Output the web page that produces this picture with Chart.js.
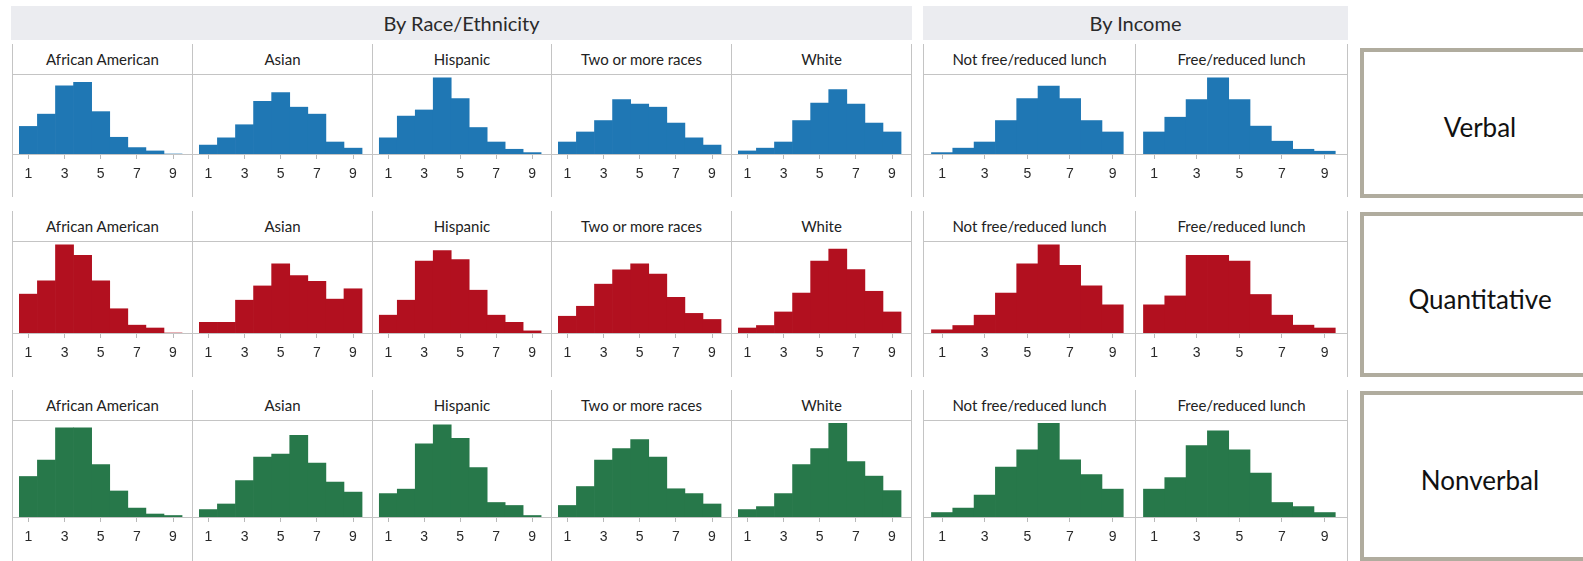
<!DOCTYPE html>
<html>
<head>
<meta charset="utf-8">
<title>Score distributions by group</title>
<script src="https://cdn.jsdelivr.net/npm/chart.js@4.4.1/dist/chart.umd.min.js"></script>
<style>
  html, body { margin: 0; padding: 0; background: #fff; }
  #stage { position: relative; width: 1583px; height: 561px; overflow: hidden;
           font-family: Lato, "Open Sans", sans-serif; color: #333; }
  .band { position: absolute; background: #ebecf0; display: flex; align-items: center;
          justify-content: center; font-size: 20px; color: #2a2a2a; }
  .vline { position: absolute; width: 1px; background: #c4c4c4; }
  .hline { position: absolute; height: 1px; background: #c4c4c4; }
  .ptitle { position: absolute; display: flex; align-items: center; justify-content: center;
            font-size: 15px; color: #222; white-space: nowrap; }
  .mbox { position: absolute; box-sizing: border-box; border: 4px solid #b0ac9e;
          display: flex; align-items: center; justify-content: center;
          font-size: 26px; color: #111; }
  canvas { position: absolute; }
</style>
</head>
<body>
<div id="stage"></div>
<script>
// ---- data -------------------------------------------------------------
const scoreBins   = [1, 2, 3, 4, 5, 6, 7, 8, 9];     // stanine
const tickLabels  = [1, 3, 5, 7, 9];
const sectionTitles = ["By Race/Ethnicity", "By Income"];
const raceGroups    = ["African American", "Asian", "Hispanic", "Two or more races", "White"];
const incomeGroups  = ["Not free/reduced lunch", "Free/reduced lunch"];
const measures      = ["Verbal", "Quantitative", "Nonverbal"];

// percent of students in each stanine, panels in order:
// African American, Asian, Hispanic, Two or more races, White, Not FRL, FRL
const verbalPct = [
  [9.9, 14.3, 24.5, 25.7, 15.2, 6.0, 2.3, 1.1, 0.0],
  [3.2, 5.8, 10.5, 18.9, 22.0, 16.8, 14.3, 4.3, 2.1],
  [5.8, 13.6, 15.8, 27.3, 19.9, 9.5, 4.3, 1.7, 0.5],
  [4.3, 7.9, 12.0, 19.5, 17.9, 16.8, 11.1, 5.8, 3.2],
  [1.1, 2.1, 4.3, 12.0, 18.3, 23.1, 17.9, 11.1, 7.9],
  [0.5, 2.1, 4.3, 12.0, 19.9, 24.4, 19.9, 12.0, 7.9],
  [7.9, 13.2, 19.5, 27.3, 19.5, 10.0, 4.6, 1.7, 1.0]
];
const quantitativePct = [
  [10.9, 14.6, 24.7, 21.8, 14.6, 6.8, 2.2, 1.4, 0.0],
  [3.0, 3.0, 9.2, 13.2, 19.4, 16.1, 14.5, 9.5, 12.4],
  [5.0, 9.2, 20.2, 23.1, 20.6, 12.0, 5.0, 3.0, 0.6],
  [4.7, 7.5, 13.7, 17.7, 19.4, 16.5, 10.0, 5.5, 3.8],
  [1.4, 2.1, 5.9, 11.2, 20.2, 23.5, 17.8, 11.7, 5.9],
  [0.9, 2.1, 5.0, 11.2, 19.4, 24.7, 19.0, 13.2, 7.9],
  [7.9, 10.4, 21.8, 21.8, 20.2, 10.8, 5.0, 2.2, 1.4]
];
const nonverbalPct = [
  [10.9, 15.3, 24.0, 24.0, 14.1, 7.0, 2.4, 0.8, 0.4],
  [2.0, 3.5, 9.8, 16.1, 16.9, 22.0, 14.5, 9.4, 6.7],
  [6.3, 7.5, 19.7, 24.8, 21.2, 13.3, 3.9, 3.1, 0.4],
  [3.1, 8.2, 15.3, 18.4, 20.8, 16.1, 7.6, 6.3, 3.5],
  [2.0, 2.8, 6.3, 14.1, 18.4, 25.2, 14.9, 11.0, 7.1],
  [1.2, 2.4, 5.9, 13.4, 18.1, 25.2, 15.4, 11.4, 7.5],
  [7.5, 10.6, 19.2, 23.2, 18.1, 11.8, 3.9, 2.8, 1.2]
];
const axisMaxPct = [28.7, 25.8, 26.1];   // shared value axis per measure row

// ---- styling & layout ---------------------------------------------------
const measureColors = ["#1f77b4", "#b2101f", "#27784a"];
const X_MIN = 0.15, X_MAX = 10.05;

// panel divider x positions per section
const raceLines   = [12, 192, 372, 551, 731, 911];
const incomeLines = [923, 1135, 1347];
// row geometry: top of dividers, title rule, baseline, bottom of dividers
const rowGeom = [
  { top: 44,  rule: 74,  base: 154, bottom: 197 },
  { top: 211, rule: 241, base: 333, bottom: 377 },
  { top: 390, rule: 420, base: 517, bottom: 561 }
];
const sectionBands = [
  { left: 11,  right: 912 },
  { left: 923, right: 1348 }
];
const measureBoxes = [
  { top: 48,  bottom: 198 },
  { top: 212, bottom: 377 },
  { top: 391, bottom: 561 }
];

const stage = document.getElementById('stage');
function el(cls, css, text) {
  const d = document.createElement('div');
  d.className = cls;
  Object.assign(d.style, css);
  if (text !== undefined) d.textContent = text;
  stage.appendChild(d);
  return d;
}

// section header bands
sectionTitles.forEach((t, i) => {
  const b = sectionBands[i];
  el('band', { left: b.left + 'px', top: '6px', width: (b.right - b.left) + 'px', height: '34px' }, t);
});

const sections = [
  { lines: raceLines, groups: raceGroups, offset: 0 },
  { lines: incomeLines, groups: incomeGroups, offset: raceGroups.length }
];
const rowData = [verbalPct, quantitativePct, nonverbalPct];

rowData.forEach((series, r) => {
  const g = rowGeom[r];
  sections.forEach(sec => {
    const L = sec.lines;
    sec.groups.forEach((name, k) => {
      const left = L[k] + 1, width = L[k + 1] - L[k] - 1;
      // panel title
      el('ptitle', { left: left + 'px', top: g.top + 'px', width: width + 'px',
                     height: (g.rule - g.top) + 'px' }, name);
      // histogram
      const cv = document.createElement('canvas');
      const h = g.bottom - g.rule;
      cv.width = width; cv.height = h;
      Object.assign(cv.style, { left: left + 'px', top: g.rule + 'px', width: width + 'px', height: h + 'px' });
      stage.appendChild(cv);
      const values = series[sec.offset + k];
      new Chart(cv, {
        type: 'bar',
        data: {
          datasets: [{
            data: scoreBins.map((b, i) => ({ x: b, y: values[i] })),
            backgroundColor: measureColors[r],
            borderWidth: 0,
            barPercentage: 1,
            categoryPercentage: 1
          }]
        },
        options: {
          responsive: false, animation: false, devicePixelRatio: 1,
          layout: { padding: 0 },
          events: [],
          plugins: { legend: { display: false }, tooltip: { enabled: false } },
          scales: {
            x: {
              type: 'linear', min: X_MIN, max: X_MAX, offset: false,
              afterBuildTicks: s => { s.ticks = tickLabels.map(v => ({ value: v })); },
              afterFit: s => { s.height = g.bottom - g.base; },
              grid: { offset: false, drawOnChartArea: false, drawTicks: true, tickLength: 5,
                      color: '#b9b9b9', lineWidth: 1 },
              border: { display: false },
              ticks: { autoSkip: false, maxRotation: 0, padding: 7, color: '#2a2a2a',
                       font: { family: '"Liberation Sans", Arial, sans-serif', size: 14 },
                       callback: v => String(v) }
            },
            y: { display: false, min: 0, max: axisMaxPct[r] }
          }
        }
      });
    });
    // rules across the section
    el('hline', { left: L[0] + 'px', top: g.rule + 'px', width: (L[L.length - 1] - L[0] + 1) + 'px', zIndex: 2 });
    el('hline', { left: L[0] + 'px', top: g.base + 'px', width: (L[L.length - 1] - L[0] + 1) + 'px', zIndex: 2 });
    L.forEach(x => el('vline', { left: x + 'px', top: g.top + 'px', height: (g.bottom - g.top) + 'px', zIndex: 2 }));
  });
  // measure label box
  const mb = measureBoxes[r];
  el('mbox', { left: '1360px', top: mb.top + 'px', width: '240px', height: (mb.bottom - mb.top) + 'px',
               paddingTop: '8px' }, measures[r]);
});
</script>
</body>
</html>
